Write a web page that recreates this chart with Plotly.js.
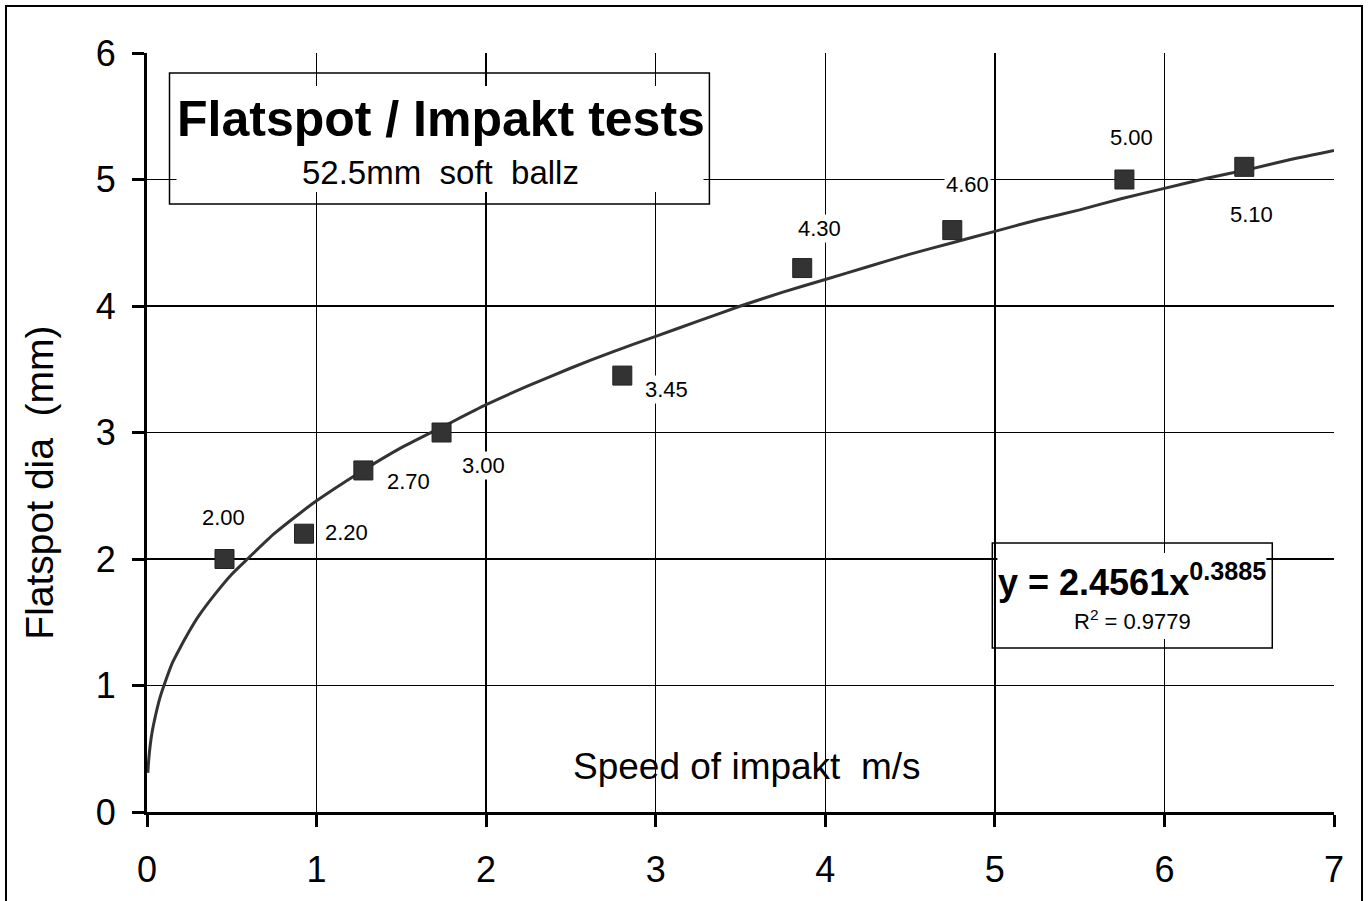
<!DOCTYPE html>
<html>
<head>
<meta charset="utf-8">
<script src="https://cdn.plot.ly/plotly-3.0.1.min.js"></script>
<style>
  html, body { margin: 0; padding: 0; background: #fff; overflow: hidden; }
  #chart { position: absolute; left: 0; top: 0; width: 1368px; height: 901px; }
  #frame { position: absolute; left: 5px; top: 5px; width: 1358px; height: 1000px;
           border: 2.5px solid #000; box-sizing: border-box; pointer-events: none; }
</style>
</head>
<body>
<div id="chart"></div>
<div id="frame"></div>
<script>
// ---- data ----
const speed = [0.457, 0.926, 1.276, 1.737, 2.803, 3.864, 4.749, 5.764, 6.471];
const flatspot = [2.00, 2.20, 2.70, 3.00, 3.45, 4.30, 4.60, 5.00, 5.10];
const pointLabels = ["2.00", "2.20", "2.70", "3.00", "3.45", "4.30", "4.60", "5.00", "5.10"];

// power trendline as drawn
const trendX = [0.005, 0.01, 0.02, 0.03, 0.04, 0.06, 0.08, 0.1, 0.15, 0.2, 0.25, 0.3, 0.4, 0.5, 0.6, 0.75, 0.9, 1, 1.25, 1.5, 1.75, 2, 2.25, 2.5, 2.75, 3, 3.25, 3.5, 3.75, 4, 4.25, 4.5, 4.75, 5, 5.25, 5.5, 5.75, 6, 6.25, 6.5, 6.75, 7];
const trendY = [0.31, 0.41, 0.54, 0.63, 0.70, 0.82, 0.92, 1.00, 1.18, 1.31, 1.43, 1.54, 1.72, 1.88, 2.01, 2.20, 2.36, 2.46, 2.68, 2.88, 3.05, 3.22, 3.37, 3.51, 3.64, 3.76, 3.88, 4.00, 4.11, 4.21, 4.31, 4.41, 4.50, 4.59, 4.68, 4.76, 4.85, 4.93, 5.01, 5.08, 5.16, 5.23];

const xTicks = [0, 1, 2, 3, 4, 5, 6, 7];
const yTicks = [0, 1, 2, 3, 4, 5, 6];

const chartTitle = "Flatspot / Impakt tests";
const chartSubtitle = "52.5mm  soft  ballz";
const xTitle = "Speed of impakt  m/s";
const yTitle = "Flatspot dia  (mm)";
const equationText = "y = 2.4561x<sup>0.3885</sup>";
const r2Text = "R<sup>2</sup> = 0.9779";

// ---- style: label offsets (px) relative to each marker ----
const labelShiftX = [-1, 42, 45, 42, 44, 17, 15, 7, 7];
const labelShiftY = [42, 1, -11, -33, -14, 40, 46, 42, -48];

const FONT = "Liberation Sans, Arial, sans-serif";

const traces = [
  {
    x: trendX, y: trendY, type: "scatter", mode: "lines",
    line: { color: "#333333", width: 3, shape: "spline", smoothing: 0.6 }, hoverinfo: "skip"
  },
  {
    x: speed, y: flatspot, type: "scatter", mode: "markers",
    marker: { symbol: "square", size: 19, color: "#333333", line: { color: "#222", width: 1 } }
  }
];

const annotations = pointLabels.map((t, i) => ({
  x: speed[i], y: flatspot[i], xref: "x", yref: "y", text: t, showarrow: false,
  xanchor: "center", yanchor: "middle",
  xshift: labelShiftX[i], yshift: labelShiftY[i],
  font: { family: FONT, size: 22, color: "#000" }, bgcolor: "#fff", borderpad: 1
}));

annotations.push(
  { x: 1.731, y: 5.478, xref: "x", yref: "y", text: "<b>" + chartTitle + "</b>", showarrow: false,
    xanchor: "center", yanchor: "middle", font: { family: FONT, size: 50, color: "#000" } },
  { x: 1.731, y: 5.059, xref: "x", yref: "y", text: chartSubtitle, showarrow: false,
    xanchor: "center", yanchor: "middle", font: { family: FONT, size: 33, color: "#000" } },
  { x: 5.811, y: 1.834, xref: "x", yref: "y", text: "<b>" + equationText + "</b>", showarrow: false,
    xanchor: "center", yanchor: "middle", font: { family: FONT, size: 36, color: "#000" } },
  { x: 5.811, y: 1.518, xref: "x", yref: "y", text: r2Text, showarrow: false,
    xanchor: "center", yanchor: "middle", font: { family: FONT, size: 22, color: "#000" } },
  { x: 3.541, y: 0.356, xref: "x", yref: "y", text: xTitle, showarrow: false,
    xanchor: "center", yanchor: "middle", font: { family: FONT, size: 37, color: "#000" } },
  { x: -0.0905, y: 2.60, xref: "paper", yref: "y", text: yTitle, showarrow: false, textangle: -90,
    xanchor: "center", yanchor: "middle", font: { family: FONT, size: 39, color: "#000" } }
);

const shapes = [
  // title box: white fill (inset) + border
  { type: "rect", xref: "x", yref: "y", x0: 0.174, x1: 3.282, y0: 4.901, y1: 5.739,
    fillcolor: "#fff", line: { width: 0 }, layer: "above" },
  { type: "rect", xref: "x", yref: "y", x0: 0.1327, x1: 3.3166, y0: 4.806, y1: 5.842,
    fillcolor: "rgba(0,0,0,0)", line: { color: "#000", width: 1.5 }, layer: "above" },
  // equation box
  { type: "rect", xref: "x", yref: "y", x0: 5.015, x1: 6.601, y0: 1.368, y1: 2.047,
    fillcolor: "#fff", line: { width: 0 }, layer: "above" },
  { type: "rect", xref: "x", yref: "y", x0: 4.985, x1: 6.636, y0: 1.296, y1: 2.126,
    fillcolor: "rgba(0,0,0,0)", line: { color: "#000", width: 1.5 }, layer: "above" }
];

const layout = {
  width: 1368, height: 901,
  margin: { l: 147, r: 34, t: 53, b: 89, pad: 0 },
  paper_bgcolor: "#fff", plot_bgcolor: "#fff",
  showlegend: false,
  font: { family: FONT, color: "#000" },
  xaxis: {
    range: [0, 7], tickvals: xTicks, ticktext: xTicks.map(String),
    showgrid: true, gridcolor: "#000", gridwidth: 1.3, zeroline: false,
    showline: true, linecolor: "#000", linewidth: 3,
    ticks: "outside", ticklen: 12, tickwidth: 3, tickcolor: "#000",
    tickfont: { family: FONT, size: 36, color: "#000" }, ticklabelstandoff: 12,
    fixedrange: true
  },
  yaxis: {
    range: [0, 6], tickvals: yTicks, ticktext: yTicks.map(String),
    showgrid: true, gridcolor: "#000", gridwidth: 1.3, zeroline: false,
    showline: true, linecolor: "#000", linewidth: 3,
    ticks: "outside", ticklen: 12, tickwidth: 3, tickcolor: "#000",
    tickfont: { family: FONT, size: 36, color: "#000" }, ticklabelstandoff: 9,
    fixedrange: true
  },
  annotations: annotations,
  shapes: shapes
};

Plotly.newPlot("chart", traces, layout, { displayModeBar: false, staticPlot: true });
</script>
</body>
</html>
